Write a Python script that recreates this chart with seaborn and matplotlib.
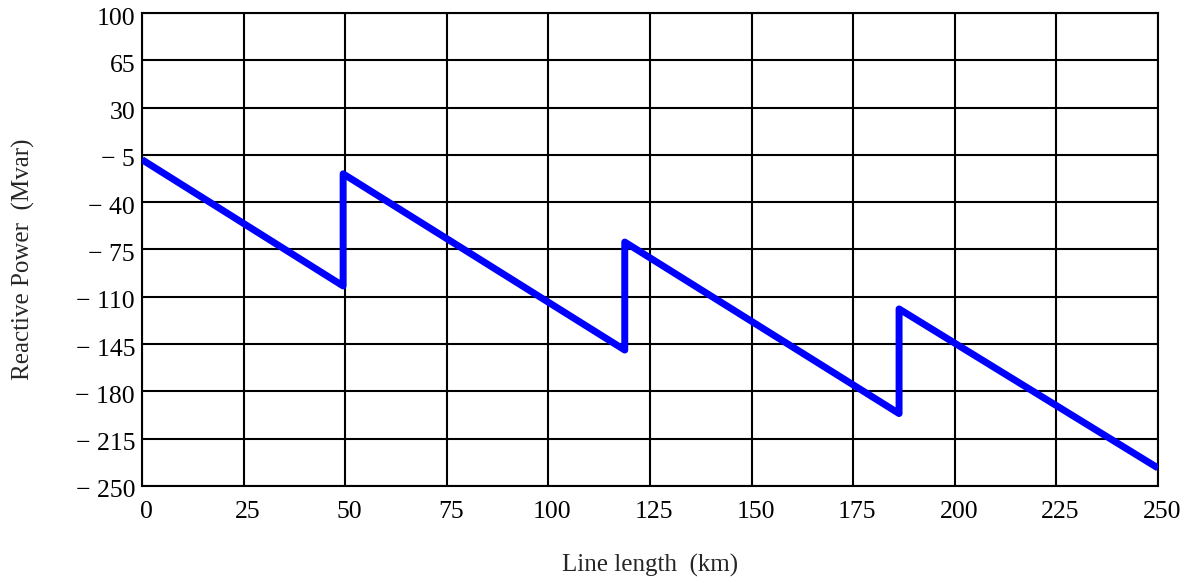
import matplotlib
matplotlib.use("Agg")
import matplotlib.pyplot as plt
import matplotlib.transforms as mtransforms
import seaborn as sns
import pandas as pd

# Data
length_km = [0, 49.5, 49.5, 118.8, 118.8, 186.3, 186.3, 250]
reactive_mvar = [-8.5, -102, -19, -149.4, -69.5, -196.4, -119, -236.7]

x_ticks = [0, 25, 50, 75, 100, 125, 150, 175, 200, 225, 250]
y_ticks = [100, 65, 30, -5, -40, -75, -110, -145, -180, -215, -250]
y_tick_labels = ["100", "65", "30", "\u2212 5", "\u2212 40", "\u2212 75", "\u2212 110",
                 "\u2212 145", "\u2212 180", "\u2212 215", "\u2212 250"]

sns.set_style("white")
plt.rcParams['font.family'] = ['Liberation Serif', 'DejaVu Serif']

df = pd.DataFrame({"x": length_km, "y": reactive_mvar})

fig = plt.figure(figsize=(11.94, 5.83), dpi=100)
ax = fig.add_axes([0.1189, 0.1664, 0.8509, 0.8113])

sns.lineplot(data=df, x="x", y="y", sort=False, estimator=None, ax=ax,
             color="#0000ff", linewidth=5, solid_joinstyle="round",
             solid_capstyle="butt", zorder=3)

ax.set_xlim(0, 250)
ax.set_ylim(-250, 100)
ax.set_xticks(x_ticks)
ax.set_xticklabels([str(v) for v in x_ticks])
ax.set_yticks(y_ticks)
ax.set_yticklabels(y_tick_labels)
ax.grid(True, color="black", linewidth=1.5)
ax.set_axisbelow(True)
for s in ax.spines.values():
    s.set_visible(True)
    s.set_color("black")
    s.set_linewidth(1.5)
ax.tick_params(axis="both", length=0, labelsize=18.5, colors="black")
ax.tick_params(axis="x", pad=11)
ax.tick_params(axis="y", pad=5)

offset_x = mtransforms.ScaledTranslation(4 / 100, 0, fig.dpi_scale_trans)
for lbl in ax.get_xticklabels():
    lbl.set_transform(lbl.get_transform() + offset_x)
offset_y = mtransforms.ScaledTranslation(0, -3 / 100, fig.dpi_scale_trans)
for lbl in ax.get_yticklabels():
    lbl.set_transform(lbl.get_transform() + offset_y)

ax.set_xlabel("Line length  (km)", fontsize=18, labelpad=22)
ax.set_ylabel("Reactive Power  (Mvar)", fontsize=18, labelpad=30)
ax.yaxis.set_label_coords(-0.105, 0.48)

fig.savefig("out.png", dpi=100)
